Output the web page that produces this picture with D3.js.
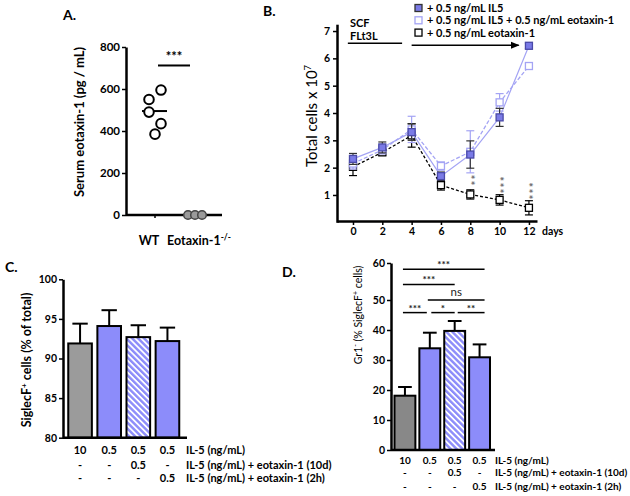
<!DOCTYPE html>
<html><head><meta charset="utf-8">
<script src="https://cdn.jsdelivr.net/npm/d3@7"></script>
<style>
html,body{margin:0;padding:0;background:#fff;}
svg{display:block;font-family:Lato,"Open Sans",sans-serif;}
text{font-weight:bold;}
</style></head>
<body>
<svg id="c" width="630" height="496"></svg>
<script>
// ---------- DATA ----------
// Panel A
const aGroups = ["WT", "KO"];
const aWT = [550, 595, 490, 435, 385];
const aWTJitter = [-1, 1, -1, 1, 0];
const aWTMedian = 495;
const aKO = [0, 0, 0];
const aKOJitter = [-1, 0, 1];
const aTicks = [0, 200, 400, 600, 800];
const aSigLevel = 712;
// Panel B
const bDays = [0, 2, 4, 6, 8, 10, 12];
const bIL5 = [2.32, 2.74, 3.30, 1.69, 2.48, 3.84, 6.46];
const bIL5Err = [0.20, 0.20, 0.30, 0.15, 0.50, 0.33, 0.10];
const bIL5Eot = [2.15, 2.65, 3.40, 2.06, 2.58, 4.39, 5.72];
const bIL5EotErr = [0.20, 0.15, 0.48, 0.15, 0.77, 0.32, 0.10];
const bEot = [2.03, 2.56, 3.18, 1.36, 1.02, 0.82, 0.53];
const bEotErr = [0.32, 0.10, 0.43, 0.18, 0.17, 0.19, 0.26];
const bLegend = ["+ 0.5 ng/mL IL5", "+ 0.5 ng/mL IL5 + 0.5 ng/mL eotaxin-1", "+ 0.5 ng/mL eotaxin-1"];
const bYTicks = [1, 2, 3, 4, 5, 6, 7];
const bStarDays = [8, 10, 12];
const bStarLabels = ["**", "***", "***"];
// Panel C
const cdCats = ["g1", "g2", "g3", "g4"];
const cValues = [91.9, 94.1, 92.7, 92.2];
const cErr = [2.5, 2.0, 1.5, 1.7];
const cTicks = [80, 85, 90, 95, 100];
// Panel D
const dValues = [18.1, 33.9, 39.7, 30.9];
const dErr = [2.9, 5.2, 3.3, 4.3];
const dTicks = [0, 10, 20, 30, 40, 50, 60];
const sigFrom = [0, 0, 1, 0, 1, 2];
const sigTo = [3, 2, 3, 1, 2, 3];
const sigLevel = [58.3, 54.2, 50, 45.8, 45.8, 45.8];
const sigLabel = ["***", "***", "ns", "***", "*", "**"];
// Condition table rows (C and D)
const rowNames = ["IL-5 (ng/mL)", "IL-5 (ng/mL) + eotaxin-1 (10d)", "IL-5 (ng/mL) + eotaxin-1 (2h)"];
const rowValues = [["10", "0.5", "0.5", "0.5"], ["-", "-", "0.5", "-"], ["-", "-", "-", "0.5"]];

// ---------- STYLE ----------
const PURPLE = "#8c8cfa";
const LPURPLE = "#a4a4f4";
const svg = d3.select("#c");

const defs = svg.append("defs");
const pat = defs.append("pattern").attr("id", "hatch").attr("patternUnits", "userSpaceOnUse")
  .attr("width", 4.2).attr("height", 4.2).attr("patternTransform", "rotate(-45)");
pat.append("rect").attr("width", 4.2).attr("height", 4.2).attr("fill", "#fff");
pat.append("rect").attr("width", 2.4).attr("height", 4.2).attr("fill", PURPLE);

function styleAxis(g, fs) {
  g.selectAll("path.domain").attr("stroke", "#000").attr("stroke-width", 2.5);
  g.selectAll(".tick line").attr("stroke", "#000").attr("stroke-width", 1.5);
  g.selectAll(".tick text").attr("font-size", fs).attr("font-weight", "bold").attr("fill", "#000")
    .attr("font-family", "Lato, 'Open Sans', sans-serif");
}

// ---------- PANEL A ----------
{
  svg.append("text").attr("x", 63).attr("y", 20).attr("font-size", 14).text("A.");
  const y = d3.scaleLinear().domain([0, 800]).range([215, 47]);
  const x = d3.scalePoint().domain(aGroups).range([155, 195]);
  const gy = svg.append("g").attr("transform", "translate(126,0)")
    .call(d3.axisLeft(y).tickValues(aTicks).tickSize(4).tickSizeOuter(0).tickPadding(2));
  styleAxis(gy, 11.5);
  const xl = d3.scaleLinear().domain([0, 1]).range([126, 222]);
  svg.append("line").attr("x1", xl(0)).attr("x2", xl(1)).attr("y1", y(0)).attr("y2", y(0))
    .attr("stroke", "#000").attr("stroke-width", 2.5);
  svg.append("line").attr("x1", x("WT")).attr("x2", x("WT")).attr("y1", y(0)).attr("y2", y(0) + 3)
    .attr("stroke", "#000").attr("stroke-width", 1.5);
  svg.append("line").attr("x1", x("WT") - 13).attr("x2", x("WT") + 12)
    .attr("y1", y(aWTMedian)).attr("y2", y(aWTMedian)).attr("stroke", "#000").attr("stroke-width", 2);
  svg.selectAll(".wt").data(aWT).enter().append("circle")
    .attr("cx", (d, i) => x("WT") + aWTJitter[i] * 6).attr("cy", d => y(d)).attr("r", 4.8)
    .attr("fill", "#fff").attr("stroke", "#000").attr("stroke-width", 2);
  svg.selectAll(".ko").data(aKO).enter().append("circle")
    .attr("cx", (d, i) => x("KO") + aKOJitter[i] * 7).attr("cy", d => y(d)).attr("r", 4.3)
    .attr("fill", "#9a9a9a").attr("stroke", "#444").attr("stroke-width", 1.5);
  svg.append("line").attr("x1", x("WT") + 3).attr("x2", x("KO") - 5)
    .attr("y1", y(aSigLevel)).attr("y2", y(aSigLevel)).attr("stroke", "#000").attr("stroke-width", 2);
  svg.append("text").attr("x", (x("WT") + x("KO")) / 2 - 1).attr("y", y(aSigLevel) - 4)
    .attr("text-anchor", "middle").attr("font-size", 13).text("***");
  svg.append("text").attr("transform", "translate(84,122) rotate(-90)").attr("text-anchor", "middle")
    .attr("font-size", 13).text("Serum eotaxin-1 (pg / mL)");
  svg.append("text").attr("x", 149).attr("y", 245).attr("text-anchor", "middle").attr("font-size", 12.5).text("WT");
  const t = svg.append("text").attr("x", 167).attr("y", 245).attr("font-size", 12.5);
  t.append("tspan").text("Eotaxin-1");
  t.append("tspan").attr("dy", -5).attr("font-size", 8.5).text("-/-");
}

// ---------- PANEL B ----------
{
  svg.append("text").attr("x", 263).attr("y", 16).attr("font-size", 14).text("B.");
  const x = d3.scaleLinear().domain([-1.09, 12.55]).range([337, 537]);
  const y = d3.scaleLinear().domain([0, 7.25]).range([222.3, 24.2]);
  const gx = svg.append("g").attr("transform", "translate(0,221)")
    .call(d3.axisBottom(x).tickValues(bDays).tickSize(4).tickSizeOuter(0).tickPadding(3));
  styleAxis(gx, 10.5);
  const gy = svg.append("g").attr("transform", "translate(337,0)")
    .call(d3.axisLeft(y).tickValues(bYTicks).tickSize(4).tickSizeOuter(0).tickPadding(3));
  styleAxis(gy, 10.5);
  svg.append("text").attr("x", x(12.55) + 5).attr("y", 235).attr("font-size", 10.5).text("days");
  const yl = svg.append("text").attr("transform", "translate(317,116) rotate(-90)")
    .attr("text-anchor", "middle").attr("font-size", 15).style("font-weight", "normal");
  yl.append("tspan").text("Total cells x 10");
  yl.append("tspan").attr("dy", -6).attr("font-size", 9.5).text("7");

  svg.append("text").attr("x", 350).attr("y", 27).attr("font-size", 11).text("SCF");
  svg.append("text").attr("x", 350).attr("y", 40).attr("font-size", 11).text("FLt3L");
  svg.append("line").attr("x1", x(-0.35)).attr("x2", x(3.35)).attr("y1", y(6.55)).attr("y2", y(6.55))
    .attr("stroke", "#000").attr("stroke-width", 1.5);
  defs.append("marker").attr("id", "arr").attr("viewBox", "0 0 10 10").attr("refX", 9).attr("refY", 5)
    .attr("markerWidth", 6).attr("markerHeight", 6).attr("orient", "auto")
    .append("path").attr("d", "M0,1 L10,5 L0,9 z").attr("fill", "#000");
  svg.append("line").attr("x1", x(4.0)).attr("x2", x(11.3)).attr("y1", y(6.48)).attr("y2", y(6.48))
    .attr("stroke", "#000").attr("stroke-width", 1.5).attr("marker-end", "url(#arr)");

  const series = [
    {v: bEot, e: bEotErr, line: "#000", dash: "3,2", fill: "#fff", stroke: "#000", err: "#000", w: 1.3},
    {v: bIL5Eot, e: bIL5EotErr, line: LPURPLE, dash: "4,2", fill: "#fff", stroke: LPURPLE, err: LPURPLE, w: 1.3},
    {v: bIL5, e: bIL5Err, line: LPURPLE, dash: null, fill: "#7a7ae6", stroke: "#4a4aa8", err: "#333", w: 1.2}
  ];
  const ln = d3.line().x((d, i) => x(bDays[i])).y(d => y(d));
  series.forEach(s => {
    const g = svg.append("g");
    g.append("path").attr("d", ln(s.v)).attr("fill", "none").attr("stroke", s.line)
      .attr("stroke-width", s.w).attr("stroke-dasharray", s.dash);
    s.v.forEach((d, i) => {
      const cx = x(bDays[i]);
      g.append("line").attr("x1", cx).attr("x2", cx).attr("y1", y(d - s.e[i])).attr("y2", y(d + s.e[i]))
        .attr("stroke", s.err).attr("stroke-width", 1.2);
      [d - s.e[i], d + s.e[i]].forEach(v => g.append("line").attr("x1", cx - 4).attr("x2", cx + 4)
        .attr("y1", y(v)).attr("y2", y(v)).attr("stroke", s.err).attr("stroke-width", 1.2));
    });
    g.selectAll("rect").data(s.v).enter().append("rect")
      .attr("x", (d, i) => x(bDays[i]) - 3.5).attr("y", d => y(d) - 3.5).attr("width", 7).attr("height", 7)
      .attr("fill", s.fill).attr("stroke", s.stroke).attr("stroke-width", 1.3);
  });
  bStarDays.forEach((day, k) => {
    const i = bDays.indexOf(day);
    const cy = y(bEot[i] + bEotErr[i]) - 9;
    svg.append("text").attr("transform", `translate(${x(day)},${cy}) rotate(90)`)
      .attr("y", 4.5).attr("text-anchor", "middle").attr("font-size", 11).attr("letter-spacing", 1.4)
      .attr("fill", "#666").text(bStarLabels[k]);
  });
  const legStyles = [
    {fill: "#7a7ae6", stroke: "#333"}, {fill: "#fff", stroke: LPURPLE}, {fill: "#fff", stroke: "#000"}
  ];
  bLegend.forEach((name, i) => {
    const ly = 8 + i * 12.3;
    svg.append("rect").attr("x", 415).attr("y", ly - 3.5).attr("width", 7).attr("height", 7)
      .attr("fill", legStyles[i].fill).attr("stroke", legStyles[i].stroke).attr("stroke-width", 1.3);
    svg.append("text").attr("x", 427).attr("y", ly + 4).attr("font-size", 11).text(name);
  });
}

// ---------- helper for bar panels ----------
function barPanel(opt) {
  const {x, y, values, err, ticks, axisX, fills, rowYs, labelX, fs} = opt;
  const gy = svg.append("g").attr("transform", `translate(${axisX},0)`)
    .call(d3.axisLeft(y).tickValues(ticks).tickSize(4).tickSizeOuter(0).tickPadding(2));
  styleAxis(gy, 10.5);
  const bw = x.bandwidth();
  values.forEach((v, i) => {
    const cx = x(cdCats[i]) + bw / 2;
    svg.append("line").attr("x1", cx).attr("x2", cx).attr("y1", y(v)).attr("y2", y(v + err[i]))
      .attr("stroke", "#000").attr("stroke-width", 2);
    svg.append("line").attr("x1", cx - bw * 0.3).attr("x2", cx + bw * 0.3).attr("y1", y(v + err[i])).attr("y2", y(v + err[i]))
      .attr("stroke", "#000").attr("stroke-width", 2);
  });
  svg.selectAll(null).data(values).enter().append("rect")
    .attr("x", (d, i) => x(cdCats[i]) + 1).attr("width", bw - 2)
    .attr("y", d => y(d)).attr("height", d => y(ticks[0]) - y(d))
    .attr("fill", (d, i) => fills[i]).attr("stroke", "#000").attr("stroke-width", 2);
  svg.append("line").attr("x1", axisX).attr("x2", opt.axisEnd).attr("y1", y(ticks[0])).attr("y2", y(ticks[0]))
    .attr("stroke", "#000").attr("stroke-width", 2.5);
  rowValues.forEach((row, r) => {
    row.forEach((v, i) => {
      svg.append("text").attr("x", x(cdCats[i]) + bw / 2).attr("y", rowYs[r]).attr("text-anchor", "middle")
        .attr("font-size", fs).text(v);
    });
    svg.append("text").attr("x", labelX).attr("y", rowYs[r]).attr("font-size", fs).text(rowNames[r]);
  });
}

// ---------- PANEL C ----------
{
  svg.append("text").attr("x", 5).attr("y", 272).attr("font-size", 14).text("C.");
  const y = d3.scaleLinear().domain([80, 100]).range([437.7, 279.3]);
  const x = d3.scaleBand().domain(cdCats).range([65.5, 182]).paddingInner(0.12).paddingOuter(0.06);
  barPanel({x, y, values: cValues, err: cErr, ticks: cTicks, axisX: 63, axisEnd: 187,
    fills: ["#9b9b9b", PURPLE, "url(#hatch)", PURPLE], rowYs: [454, 469, 482], labelX: 186, fs: 11});
  const t = svg.append("text").attr("transform", "translate(31,360) rotate(-90)").attr("text-anchor", "middle")
    .attr("font-size", 12.5);
  t.append("tspan").text("SiglecF");
  t.append("tspan").attr("dy", -4).attr("font-size", 8).text("+");
  t.append("tspan").attr("dy", 4).text(" cells (% of total)");
}

// ---------- PANEL D ----------
{
  svg.append("text").attr("x", 282).attr("y", 277).attr("font-size", 14).text("D.");
  const y = d3.scaleLinear().domain([0, 50, 60]).range([450, 300, 263]);
  const x = d3.scaleBand().domain(cdCats).range([392.5, 492]).paddingInner(0.08).paddingOuter(0.04);
  barPanel({x, y, values: dValues, err: dErr, ticks: dTicks, axisX: 391, axisEnd: 495,
    fills: ["#888888", PURPLE, "url(#hatch)", PURPLE], rowYs: [464, 476, 490], labelX: 495, fs: 10});
  const bw = x.bandwidth();
  const c = i => x(cdCats[i]) + bw / 2;
  sigLabel.forEach((lab, k) => {
    const adj = sigTo[k] - sigFrom[k] === 1 && k >= 3;
    const x1 = c(sigFrom[k]) - 2 + (adj && sigFrom[k] > 0 ? 2 + sigFrom[k] * 1.5 : 0);
    const x2 = c(sigTo[k]) + (sigTo[k] === 3 ? 5 : 0) + (adj && sigFrom[k] === 0 ? -3 : 0);
    const yy = y(sigLevel[k]);
    svg.append("line").attr("x1", x1).attr("x2", x2).attr("y1", yy).attr("y2", yy)
      .attr("stroke", "#000").attr("stroke-width", 1.5);
    svg.append("text").attr("x", (x1 + x2) / 2).attr("y", lab === "ns" ? yy - 4 : yy - 1)
      .attr("text-anchor", "middle").attr("font-size", lab === "ns" ? 11.5 : 10).attr("fill", "#222")
      .style("font-weight", lab === "ns" ? "normal" : "bold").text(lab);
  });
  const t = svg.append("text").attr("transform", "translate(362,315) rotate(-90)").attr("text-anchor", "middle")
    .attr("font-size", 10.5).style("font-weight", "normal");
  t.append("tspan").text("Gr1");
  t.append("tspan").attr("dy", -4).attr("font-size", 7).text("-");
  t.append("tspan").attr("dy", 4).text(" (% SiglecF");
  t.append("tspan").attr("dy", -4).attr("font-size", 7).text("+");
  t.append("tspan").attr("dy", 4).text(" cells)");
}
</script>
</body></html>
